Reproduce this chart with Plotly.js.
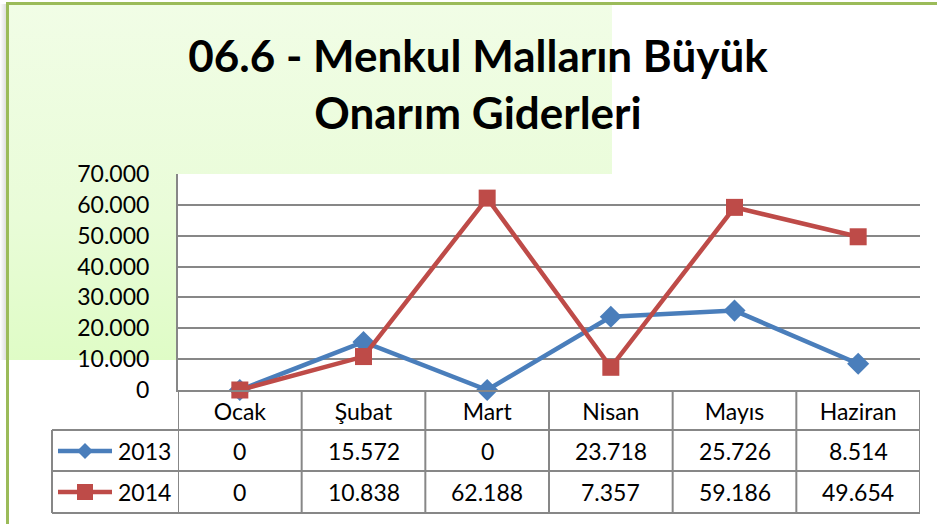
<!DOCTYPE html>
<html>
<head>
<meta charset="utf-8">
<script src="https://cdn.plot.ly/plotly-3.0.1.min.js"></script>
<style>
  html, body { margin: 0; padding: 0; background: #ffffff; }
  #wrap { position: relative; width: 937px; height: 524px; overflow: hidden; background: #ffffff; }
  #bg { position: absolute; left: 8px; top: 4px; width: 604px; height: 356px;
        background: linear-gradient(to bottom, #F1FDE6 0%, #E9FCD8 60%, #DFFCC6 100%); }
  #shadow { position: absolute; left: 0px; top: 4px; width: 6px; height: 356px;
        background: linear-gradient(to right, rgba(255,255,255,0), rgba(200,200,200,0.6)); }
  #btop { position: absolute; left: 6px; top: 2px; width: 931px; height: 3px; background: #9BBB59; }
  #bleft { position: absolute; left: 6px; top: 2px; width: 3px; height: 522px; background: #9BBB59; }
  #chart { position: absolute; left: 0; top: 0; width: 937px; height: 524px; }
</style>
</head>
<body>
<div id="wrap">
  <div id="shadow"></div>
  <div id="bg"></div>
  <div id="btop"></div>
  <div id="bleft"></div>
  <div id="chart"></div>
</div>
<script>
// ---- DATA ----
const categories = ['Ocak', 'Şubat', 'Mart', 'Nisan', 'Mayıs', 'Haziran'];
const seriesNames = ['2013', '2014'];
const values2013 = [0, 15572, 0, 23718, 25726, 8514];
const values2014 = [0, 10838, 62188, 7357, 59186, 49654];
const yTickValues = [0, 10000, 20000, 30000, 40000, 50000, 60000, 70000];
const chartTitle = '06.6 - Menkul Malların Büyük<br>Onarım Giderleri';

// ---- STYLE / LAYOUT HELPERS ----
const W = 937, H = 524;
const L = 178, R = 920, T = 174, B = 390;
const px = v => (v - L) / (R - L);
const py = v => (B - v) / (B - T);
const FONT = 'Lato, "Open Sans", sans-serif';
const blue = '#4A7EBB', red = '#BE4B48', gridC = '#878787';
const TXT = 23;

function fmt(n) {
  return String(n).replace(/\B(?=(\d{3})+(?!\d))/g, '.');
}

const traces = [
  { x: categories, y: values2013, name: seriesNames[0], type: 'scatter', mode: 'lines+markers',
    line: { color: blue, width: 4.5 }, marker: { symbol: 'diamond', size: 17, color: blue },
    cliponaxis: false, hoverinfo: 'x+y' },
  { x: categories, y: values2014, name: seriesNames[1], type: 'scatter', mode: 'lines+markers',
    line: { color: red, width: 4.5 }, marker: { symbol: 'square', size: 17, color: red },
    cliponaxis: false, hoverinfo: 'x+y' }
];

const rowY = [py(451), py(492)];
const shapes = [];
const annotations = [];

// table horizontal lines
[430, 471, 513].forEach(yy => {
  shapes.push({ type: 'line', xref: 'paper', yref: 'paper', x0: px(52), x1: 1, y0: py(yy), y1: py(yy),
    line: { color: gridC, width: 2 }, layer: 'above' });
});
// table vertical lines (category boundaries)
for (let i = 0; i <= categories.length; i++) {
  shapes.push({ type: 'line', xref: 'x', yref: 'paper', x0: i - 0.5, x1: i - 0.5, y0: 0, y1: py(513),
    line: { color: gridC, width: 2 }, layer: 'above' });
}
// left border of table
shapes.push({ type: 'line', xref: 'paper', yref: 'paper', x0: px(52), x1: px(52), y0: py(430), y1: py(513),
  line: { color: gridC, width: 2 } });

// legend keys inside table
const keyColors = [blue, red];
seriesNames.forEach((nm, r) => {
  shapes.push({ type: 'line', xref: 'paper', yref: 'paper', x0: px(58), x1: px(112), y0: rowY[r], y1: rowY[r],
    line: { color: keyColors[r], width: 4.5 } });
  if (r === 0) {
    shapes.push({ type: 'path', xref: 'paper', yref: 'paper', xsizemode: 'pixel', ysizemode: 'pixel',
      xanchor: px(85), yanchor: rowY[r], path: 'M 0 8 L 8 0 L 0 -8 L -8 0 Z',
      fillcolor: keyColors[r], line: { color: keyColors[r], width: 0 } });
  } else {
    shapes.push({ type: 'rect', xref: 'paper', yref: 'paper', xsizemode: 'pixel', ysizemode: 'pixel',
      xanchor: px(85), yanchor: rowY[r], x0: -8, x1: 8, y0: -8, y1: 8,
      fillcolor: keyColors[r], line: { color: keyColors[r], width: 0 } });
  }
  annotations.push({ xref: 'paper', yref: 'paper', x: px(116), y: rowY[r], xanchor: 'left', yanchor: 'middle',
    text: nm, showarrow: false, font: { family: FONT, size: TXT, color: '#000' } });
});

// table values
[values2013, values2014].forEach((vals, r) => {
  vals.forEach((v, i) => {
    annotations.push({ xref: 'x', yref: 'paper', x: categories[i], y: rowY[r], xanchor: 'center', yanchor: 'middle',
      text: fmt(v), showarrow: false, font: { family: FONT, size: TXT, color: '#000' } });
  });
});

const layout = {
  width: W, height: H,
  margin: { l: L, r: W - R, t: T, b: H - B, pad: 0 },
  paper_bgcolor: 'rgba(0,0,0,0)',
  plot_bgcolor: '#ffffff',
  separators: ',.',
  showlegend: false,
  title: { text: chartTitle, font: { family: FONT, size: 44, color: '#000', weight: 'bold' },
    xref: 'container', yref: 'container', x: 478 / W, xanchor: 'center', y: 1 - 72 / H, yanchor: 'middle' },
  xaxis: { type: 'category', range: [-0.5, categories.length - 0.5], showgrid: false, zeroline: false,
    showline: true, linecolor: gridC, linewidth: 2,
    ticks: '', ticklen: 0,
    tickfont: { family: FONT, size: TXT, color: '#000' }, fixedrange: true },
  yaxis: { range: [0, 70000], tickvals: yTickValues, tickformat: ',d',
    showgrid: true, gridcolor: gridC, gridwidth: 2, zeroline: false,
    showline: true, linecolor: gridC, linewidth: 2,
    ticks: 'outside', ticklen: 22, tickcolor: 'rgba(0,0,0,0)',
    tickfont: { family: FONT, size: TXT, color: '#000' }, fixedrange: true },
  shapes: shapes,
  annotations: annotations
};

Plotly.newPlot('chart', traces, layout, { displayModeBar: false, staticPlot: true });
</script>
</body>
</html>
